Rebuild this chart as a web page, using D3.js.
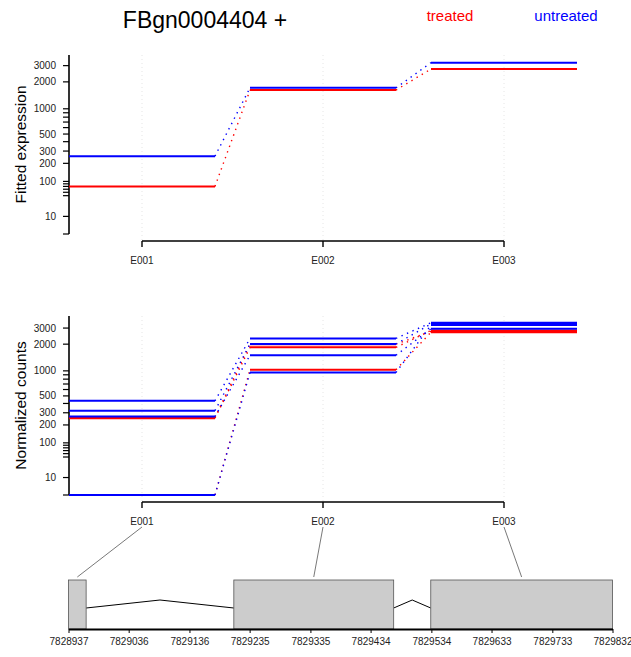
<!DOCTYPE html>
<html>
<head>
<meta charset="utf-8">
<script src="https://cdn.jsdelivr.net/npm/d3@7"></script>
<style>
  body { margin: 0; background: #fff; }
  svg { font-family: "Liberation Sans", Arial, sans-serif; }
</style>
</head>
<body>
<svg id="chart" width="631" height="657"></svg>
<script>
// exon ids and the values
const exons = ["E001", "E002", "E003"];
const fittedTreated = [80, 1625, 2760];
const fittedUntreated = [255, 1720, 3230];
const countsTreated = [
  [0, 1032, 2708],
  [252, 1844, 2823],
  [258, 2000, 2760],
];
const countsUntreated = [
  [433, 2312, 3433],
  [321, 2009, 3330],
  [266, 1507, 2943],
  [0, 958, 3230],
];
const yTickLabels = [10, 100, 200, 300, 500, 1000, 2000, 3000];
const yMinorTicks = [0, 50, 60, 70, 80, 90, 400, 600, 700, 800, 900];
// gene model (genomic coordinates)
const exonStart = [7828937, 7829209, 7829533];
const exonEnd = [7828966, 7829472, 7829832];
const genomeTicks = [7828937, 7829036, 7829136, 7829235, 7829335, 7829434, 7829534, 7829633, 7829733, 7829832];

const red = "#ff0000", blue = "#0000ff";
const svg = d3.select("#chart");

// variance stabilising transform used by the y axes
const vst = (q) => Math.asinh(Math.sqrt(0.0045 * q));

const x = d3.scaleBand().domain(exons).range([69, 577]).paddingInner(0.1934).paddingOuter(0);

// title + legend
svg.append("text").attr("x", 205).attr("y", 28).attr("text-anchor", "middle")
  .style("font-size", "23px").text("FBgn0004404 +");
svg.append("text").attr("x", 450).attr("y", 21).attr("text-anchor", "middle")
  .style("font-size", "15px").style("fill", red).text("treated");
svg.append("text").attr("x", 566).attr("y", 21).attr("text-anchor", "middle")
  .style("font-size", "15px").style("fill", blue).text("untreated");

function panel(top, bottom, qmax, label, seriesList) {
  const y = d3.scaleLinear().domain([0, vst(qmax)]).range([bottom, top]);
  const axisY = bottom + 7;
  const g = svg.append("g");

  // dotted grid at exon centres
  exons.forEach((e) => {
    g.append("line")
      .attr("x1", x(e) + x.bandwidth() / 2).attr("x2", x(e) + x.bandwidth() / 2)
      .attr("y1", top).attr("y2", axisY)
      .attr("stroke", "#e0e0e0").attr("stroke-width", 0.8)
      .attr("stroke-dasharray", "1,3");
  });

  // y axis
  g.append("line").attr("x1", 69).attr("x2", 69).attr("y1", top).attr("y2", bottom)
    .attr("stroke", "#000").attr("stroke-width", 1.6);
  yTickLabels.concat(yMinorTicks).forEach((t) => {
    g.append("line").attr("x1", 63).attr("x2", 69)
      .attr("y1", y(vst(t))).attr("y2", y(vst(t)))
      .attr("stroke", "#000").attr("stroke-width", 1.2);
  });
  yTickLabels.forEach((t) => {
    g.append("text").attr("x", 56).attr("y", y(vst(t))).attr("dy", "0.35em")
      .attr("text-anchor", "end").style("font-size", "10px").style("fill", "#222")
      .text(t);
  });
  g.append("text")
    .attr("transform", `translate(21,${(top + bottom) / 2}) rotate(-90)`)
    .attr("text-anchor", "middle").attr("dy", "0.35em")
    .style("font-size", "15.5px").text(label);

  // x axis with exon ticks
  const xc = exons.map((e) => x(e) + x.bandwidth() / 2);
  g.append("line").attr("x1", xc[0]).attr("x2", xc[2]).attr("y1", axisY).attr("y2", axisY)
    .attr("stroke", "#000").attr("stroke-width", 1.6);
  exons.forEach((e, i) => {
    g.append("line").attr("x1", xc[i]).attr("x2", xc[i]).attr("y1", axisY).attr("y2", axisY + 6)
      .attr("stroke", "#000").attr("stroke-width", 1.4);
    g.append("text").attr("x", xc[i]).attr("y", axisY + 19).attr("dy", "0.35em")
      .attr("text-anchor", "middle").style("font-size", "10px").style("fill", "#222").text(e);
  });

  // series: flat segment per exon, dotted link between exons
  seriesList.forEach(([vals, col]) => {
    vals.forEach((v, i) => {
      g.append("line").attr("x1", x(exons[i])).attr("x2", x(exons[i]) + x.bandwidth())
        .attr("y1", y(vst(v))).attr("y2", y(vst(v)))
        .attr("stroke", col).attr("stroke-width", 2);
      if (i < vals.length - 1) {
        g.append("line").attr("x1", x(exons[i]) + x.bandwidth()).attr("x2", x(exons[i + 1]))
          .attr("y1", y(vst(v))).attr("y2", y(vst(vals[i + 1])))
          .attr("stroke", col).attr("stroke-width", 1.4)
          .attr("stroke-dasharray", "1.4,4.6");
      }
    });
  });
}

panel(55, 234, 3900, "Fitted expression", [[fittedTreated, red], [fittedUntreated, blue]]);
panel(316, 495, 4050, "Normalized counts",
  countsTreated.map((d) => [d, red]).concat(countsUntreated.map((d) => [d, blue])));

// gene model
const gx = d3.scaleLinear().domain([genomeTicks[0], genomeTicks[genomeTicks.length - 1]]).range([68.5, 612.5]);
const boxTop = 580, boxBottom = 629, intronY = 608, peakY = 600;

// connectors from exon labels to boxes
exons.forEach((e, i) => {
  svg.append("line")
    .attr("x1", x(e) + x.bandwidth() / 2).attr("y1", 527)
    .attr("x2", gx((exonStart[i] + exonEnd[i]) / 2)).attr("y2", 577)
    .attr("stroke", "#555").attr("stroke-width", 0.8);
});

// introns
for (let i = 0; i < exonStart.length - 1; i++) {
  const a = gx(exonEnd[i]), b = gx(exonStart[i + 1]);
  svg.append("polyline")
    .attr("points", `${a},${intronY} ${(a + b) / 2},${peakY} ${b},${intronY}`)
    .attr("fill", "none").attr("stroke", "#000").attr("stroke-width", 1);
}

// exon boxes
exonStart.forEach((s, i) => {
  svg.append("rect").attr("x", gx(s)).attr("y", boxTop)
    .attr("width", gx(exonEnd[i]) - gx(s)).attr("height", boxBottom - boxTop)
    .attr("fill", "#cccccc").attr("stroke", "#555").attr("stroke-width", 0.8);
});

// genomic axis
svg.append("g").attr("transform", `translate(0,${boxBottom})`)
  .call(d3.axisBottom(gx).tickValues(genomeTicks).tickSize(4).tickSizeOuter(0).tickFormat(d3.format("d")))
  .call((a) => a.select(".domain").attr("stroke-width", 2.2))
  .call((a) => a.selectAll("text").style("font-size", "10px").style("fill", "#222")
    .style("font-family", "'Liberation Sans', Arial, sans-serif").attr("y", 9).attr("dy", "0.71em"));
</script>
</body>
</html>
